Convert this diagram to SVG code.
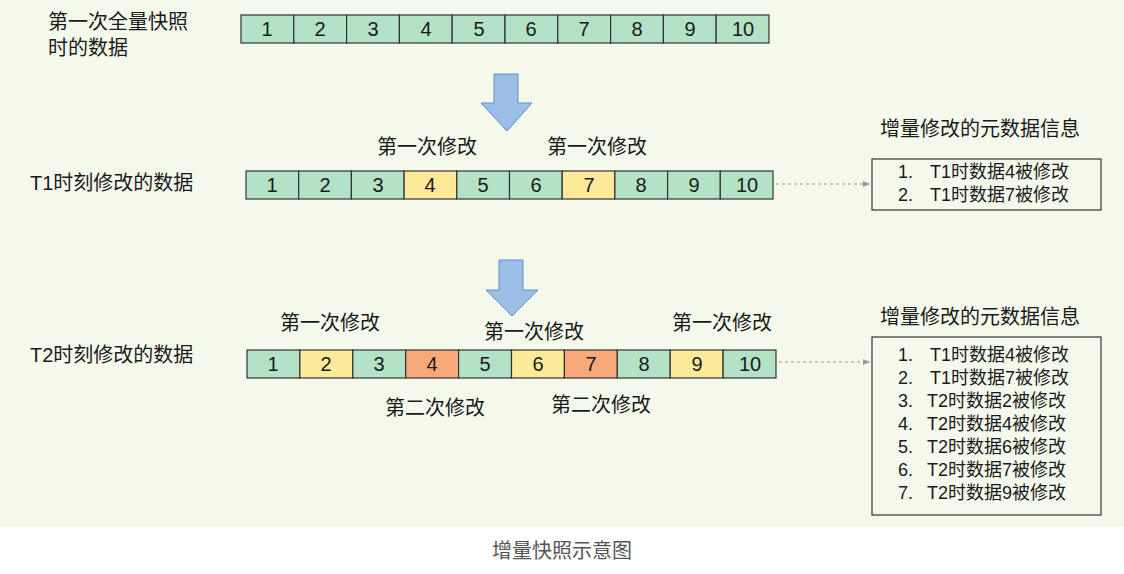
<svg xmlns="http://www.w3.org/2000/svg" width="1124" height="574" viewBox="0 0 1124 574">
<defs>
<style>
text{font-family:"Liberation Sans","Noto Sans CJK SC",sans-serif;fill:#1a1a1a}
.c{stroke:#333;stroke-width:1.2}
.g{fill:#b3e2c6}.y{fill:#fde99a}.o{fill:#f8a97a}
.n{font-size:20px;text-anchor:middle}
.l{font-size:20px}
.s{font-size:18px}
.arr{fill:#9bbfe6;stroke:#5e8fc6;stroke-width:1}
.box{fill:none;stroke:#333;stroke-width:1.2}
.dash{stroke:#999;stroke-width:1;stroke-dasharray:3 3;fill:none}
</style>
<marker id="ah" markerWidth="8" markerHeight="8" refX="7" refY="4" orient="auto" markerUnits="userSpaceOnUse"><path d="M0,1 L7,4 L0,7 Z" fill="#999"/></marker>
</defs>
<rect width="1124" height="527" fill="#f5f9ec"/>
<rect y="527" width="1124" height="47" fill="#fff"/>
<g id="row0">
<g class="c g"><rect x="241" y="15" width="52.8" height="28"/><rect x="293.8" y="15" width="52.8" height="28"/><rect x="346.6" y="15" width="52.8" height="28"/><rect x="399.4" y="15" width="52.8" height="28"/><rect x="452.2" y="15" width="52.8" height="28"/><rect x="505" y="15" width="52.8" height="28"/><rect x="557.8" y="15" width="52.8" height="28"/><rect x="610.6" y="15" width="52.8" height="28"/><rect x="663.4" y="15" width="52.8" height="28"/><rect x="716.2" y="15" width="52.8" height="28"/></g>
<g class="n"><text x="267" y="36">1</text><text x="320" y="36">2</text><text x="373" y="36">3</text><text x="426" y="36">4</text><text x="479" y="36">5</text><text x="531" y="36">6</text><text x="584" y="36">7</text><text x="637" y="36">8</text><text x="690" y="36">9</text><text x="743" y="36">10</text></g>
</g>
<g id="label0" class="l"><text x="48" y="29">第一次全量快照</text><text x="48" y="55">时的数据</text></g>
<g id="arrow1"><path class="arr" d="M494,74 H518 V103 H532 L507,131 L481,103 H494 Z"/></g>
<g id="row1">
<g class="c"><rect class="g" x="246" y="171" width="52.7" height="28"/><rect class="g" x="298.7" y="171" width="52.7" height="28"/><rect class="g" x="351.4" y="171" width="52.7" height="28"/><rect class="y" x="404.1" y="171" width="52.7" height="28"/><rect class="g" x="456.8" y="171" width="52.7" height="28"/><rect class="g" x="509.5" y="171" width="52.7" height="28"/><rect class="y" x="562.2" y="171" width="52.7" height="28"/><rect class="g" x="614.9" y="171" width="52.7" height="28"/><rect class="g" x="667.6" y="171" width="52.7" height="28"/><rect class="g" x="720.3" y="171" width="52.7" height="28"/></g>
<g class="n"><text x="272" y="192">1</text><text x="325" y="192">2</text><text x="378" y="192">3</text><text x="430" y="192">4</text><text x="483" y="192">5</text><text x="536" y="192">6</text><text x="589" y="192">7</text><text x="641" y="192">8</text><text x="694" y="192">9</text><text x="747" y="192">10</text></g>
</g>
<g id="label1"><text class="l" x="30" y="190">T1时刻修改的数据</text><text class="n" x="427" y="154">第一次修改</text><text class="n" x="597" y="154">第一次修改</text></g>
<g id="meta1"><text class="n" x="980" y="136">增量修改的元数据信息</text><rect class="box" x="872" y="159" width="229" height="51"/>
<g class="s"><text x="898" y="178">1.</text><text x="930" y="178">T1时数据4被修改</text><text x="898" y="201">2.</text><text x="930" y="201">T1时数据7被修改</text></g></g>
<g id="arrow2"><path class="arr" d="M499,260 H523 V290 H538 L512,316 L486,290 H499 Z"/></g>
<g id="row2">
<g class="c"><rect class="g" x="247" y="350" width="52.9" height="28"/><rect class="y" x="299.9" y="350" width="52.9" height="28"/><rect class="g" x="352.8" y="350" width="52.9" height="28"/><rect class="o" x="405.7" y="350" width="52.9" height="28"/><rect class="g" x="458.6" y="350" width="52.9" height="28"/><rect class="y" x="511.5" y="350" width="52.9" height="28"/><rect class="o" x="564.4" y="350" width="52.9" height="28"/><rect class="g" x="617.3" y="350" width="52.9" height="28"/><rect class="y" x="670.2" y="350" width="52.9" height="28"/><rect class="g" x="723.1" y="350" width="52.9" height="28"/></g>
<g class="n"><text x="273" y="371">1</text><text x="326" y="371">2</text><text x="379" y="371">3</text><text x="432" y="371">4</text><text x="485" y="371">5</text><text x="538" y="371">6</text><text x="591" y="371">7</text><text x="644" y="371">8</text><text x="697" y="371">9</text><text x="750" y="371">10</text></g>
</g>
<g id="label2"><text class="l" x="30" y="362">T2时刻修改的数据</text>
<g class="n"><text x="330" y="330">第一次修改</text><text x="534" y="339">第一次修改</text><text x="722" y="330">第一次修改</text><text x="435" y="415">第二次修改</text><text x="601" y="412">第二次修改</text></g></g>
<g id="meta2"><text class="n" x="980" y="324">增量修改的元数据信息</text><rect class="box" x="872" y="337" width="229" height="178"/>
<g class="s"><text x="898" y="361">1.</text><text x="930" y="361">T1时数据4被修改</text><text x="898" y="384">2.</text><text x="930" y="384">T1时数据7被修改</text><text x="898" y="407">3.</text><text x="927" y="407">T2时数据2被修改</text><text x="898" y="430">4.</text><text x="927" y="430">T2时数据4被修改</text><text x="898" y="453">5.</text><text x="927" y="453">T2时数据6被修改</text><text x="898" y="476">6.</text><text x="927" y="476">T2时数据7被修改</text><text x="898" y="499">7.</text><text x="927" y="499">T2时数据9被修改</text></g></g>
<g id="connectors"><path class="dash" d="M776,184 H870" marker-end="url(#ah)"/><path class="dash" d="M779,362 H870" marker-end="url(#ah)"/></g>
<text x="562" y="558" style="font-size:20px;text-anchor:middle;fill:#555">增量快照示意图</text>
</svg>
